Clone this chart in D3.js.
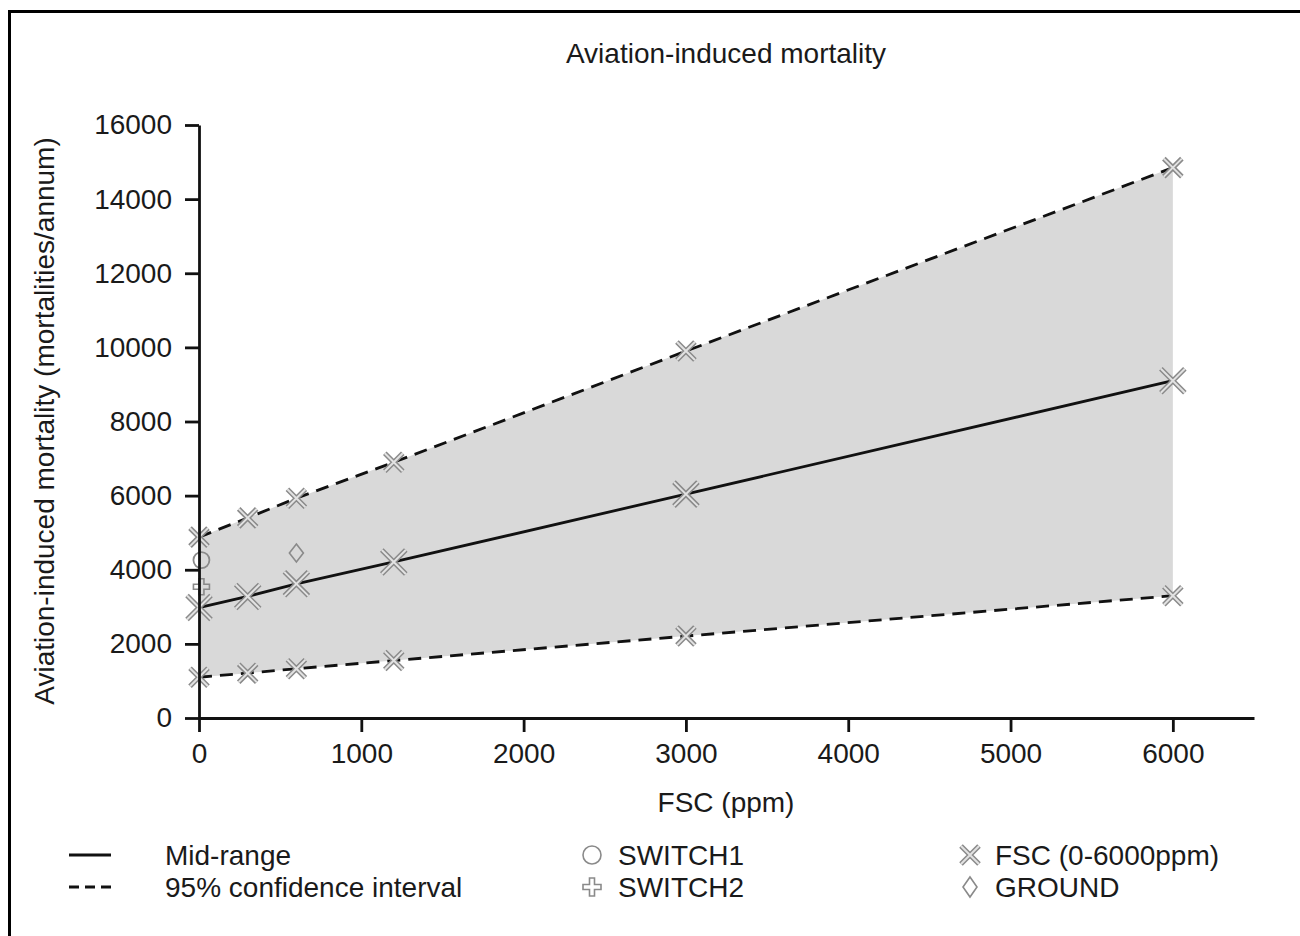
<!DOCTYPE html>
<html>
<head>
<meta charset="utf-8">
<script src="https://cdn.jsdelivr.net/npm/d3@7"></script>
<style>
  body { margin: 0; background: #fff; }
  text { font-family: "Liberation Sans", Arial, sans-serif; fill: #1a1a1a; }
</style>
</head>
<body>
<div id="chart"></div>
<script>
// data
const fscPpm = [0, 300, 600, 1200, 3000, 6000];
const midRange = [2980, 3280, 3620, 4210, 6040, 9100];
const upper95 = [4880, 5400, 5930, 6900, 9900, 14850];
const lower95 = [1100, 1210, 1330, 1550, 2210, 3300];
const switch1 = [{ fsc: 15, value: 4260 }];
const switch2 = [{ fsc: 15, value: 3540 }];
const ground = [{ fsc: 600, value: 4450 }];
const xTicks = [0, 1000, 2000, 3000, 4000, 5000, 6000];
const yTicks = [0, 2000, 4000, 6000, 8000, 10000, 12000, 14000, 16000];

const width = 1300, height = 936;
const fontSize = 28;
const markGray = "#8a8a8a";

const svg = d3.select("#chart").append("svg")
    .attr("width", width)
    .attr("height", height);

// outer frame (only top and left edges are visible)
svg.append("path")
    .attr("d", "M9.5,940 L9.5,11.5 L1310,11.5")
    .attr("fill", "none")
    .attr("stroke", "#000")
    .attr("stroke-width", 3);

const x = d3.scaleLinear().domain([0, 6500]).range([199, 1254]);
const y = d3.scaleLinear().domain([0, 16000]).range([718, 125]);

const rows = fscPpm.map((f, i) => ({ fsc: f, mid: midRange[i], up: upper95[i], lo: lower95[i] }));

// confidence band
svg.append("path")
    .datum(rows)
    .attr("d", d3.area().x(d => x(d.fsc)).y0(d => y(d.lo)).y1(d => y(d.up)))
    .attr("fill", "#d9d9d9");

// lines
const lineMid = d3.line().x(d => x(d.fsc)).y(d => y(d.mid));
const lineUp = d3.line().x(d => x(d.fsc)).y(d => y(d.up));
const lineLo = d3.line().x(d => x(d.fsc)).y(d => y(d.lo));

svg.append("path").datum(rows).attr("d", lineMid)
    .attr("fill", "none").attr("stroke", "#111").attr("stroke-width", 2.8);
[lineUp, lineLo].forEach(l => {
    svg.append("path").datum(rows).attr("d", l)
        .attr("fill", "none").attr("stroke", "#111").attr("stroke-width", 2.8)
        .attr("stroke-dasharray", "13,8");
});

// hollow X marker
function drawX(g, cx, cy, r) {
    const d = `M${cx - r},${cy - r}L${cx + r},${cy + r}M${cx - r},${cy + r}L${cx + r},${cy - r}`;
    g.append("path").attr("d", d).attr("stroke", markGray).attr("stroke-width", 5).attr("fill", "none");
    g.append("path").attr("d", d).attr("stroke", "#e2e2e2").attr("stroke-width", 2).attr("fill", "none");
}
function plusPath(cx, cy, r, w) {
    return `M${cx - w},${cy - r}H${cx + w}V${cy - w}H${cx + r}V${cy + w}H${cx + w}V${cy + r}` +
        `H${cx - w}V${cy + w}H${cx - r}V${cy - w}H${cx - w}Z`;
}
function diamondPath(cx, cy, rx, ry) {
    return `M${cx},${cy - ry}L${cx + rx},${cy}L${cx},${cy + ry}L${cx - rx},${cy}Z`;
}

const marks = svg.append("g");
rows.forEach(d => {
    drawX(marks, x(d.fsc), y(d.up), 9);
    drawX(marks, x(d.fsc), y(d.lo), 9);
    drawX(marks, x(d.fsc), y(d.mid), 12);
});
switch1.forEach(d => {
    marks.append("circle").attr("cx", x(d.fsc)).attr("cy", y(d.value)).attr("r", 8)
        .attr("fill", "none").attr("stroke", markGray).attr("stroke-width", 1.8);
});
switch2.forEach(d => {
    marks.append("path").attr("d", plusPath(x(d.fsc), y(d.value), 8, 2.5))
        .attr("fill", "none").attr("stroke", markGray).attr("stroke-width", 1.6);
});
ground.forEach(d => {
    marks.append("path").attr("d", diamondPath(x(d.fsc), y(d.value), 7, 9))
        .attr("fill", "none").attr("stroke", markGray).attr("stroke-width", 1.6);
});

// axes
const xAxis = svg.append("g")
    .attr("transform", "translate(0,718)")
    .call(d3.axisBottom(x).tickValues(xTicks).tickFormat(d3.format("d"))
        .tickSize(14).tickSizeOuter(0).tickPadding(11));
const yAxis = svg.append("g")
    .attr("transform", "translate(199,0)")
    .call(d3.axisLeft(y).tickValues(yTicks).tickFormat(d3.format("d"))
        .tickSize(14).tickSizeOuter(0).tickPadding(13));

[xAxis, yAxis].forEach(a => {
    a.selectAll("path, line").attr("stroke", "#111").attr("stroke-width", 2.8);
    a.selectAll("text").attr("font-size", fontSize)
        .attr("font-family", "Liberation Sans, Arial, sans-serif").attr("fill", "#1a1a1a");
});

// titles
svg.append("text").attr("x", 726).attr("y", 63).attr("text-anchor", "middle")
    .attr("font-size", fontSize).text("Aviation-induced mortality");
svg.append("text").attr("x", 726).attr("y", 812).attr("text-anchor", "middle")
    .attr("font-size", fontSize).text("FSC (ppm)");
svg.append("text")
    .attr("transform", "translate(54,421) rotate(-90)")
    .attr("text-anchor", "middle")
    .attr("font-size", fontSize)
    .text("Aviation-induced mortality (mortalities/annum)");

// legend
const legend = svg.append("g");
legend.append("line").attr("x1", 69).attr("x2", 111).attr("y1", 855).attr("y2", 855)
    .attr("stroke", "#111").attr("stroke-width", 2.8);
legend.append("line").attr("x1", 69).attr("x2", 111).attr("y1", 887).attr("y2", 887)
    .attr("stroke", "#111").attr("stroke-width", 2.8).attr("stroke-dasharray", "10,6");
legend.append("circle").attr("cx", 592).attr("cy", 855).attr("r", 9)
    .attr("fill", "none").attr("stroke", markGray).attr("stroke-width", 1.6);
legend.append("path").attr("d", plusPath(592, 887, 9, 2.5))
    .attr("fill", "none").attr("stroke", markGray).attr("stroke-width", 1.6);
drawX(legend, 970, 855, 9);
legend.append("path").attr("d", diamondPath(970, 887, 7, 10))
    .attr("fill", "none").attr("stroke", markGray).attr("stroke-width", 1.6);

const legendItems = [
    { x: 165, y: 865, label: "Mid-range" },
    { x: 165, y: 897, label: "95% confidence interval" },
    { x: 618, y: 865, label: "SWITCH1" },
    { x: 618, y: 897, label: "SWITCH2" },
    { x: 995, y: 865, label: "FSC (0-6000ppm)" },
    { x: 995, y: 897, label: "GROUND" }
];
legend.selectAll("text.lab")
    .data(legendItems)
    .enter().append("text")
    .attr("class", "lab")
    .attr("x", d => d.x)
    .attr("y", d => d.y)
    .attr("font-size", fontSize)
    .text(d => d.label);
</script>
</body>
</html>
